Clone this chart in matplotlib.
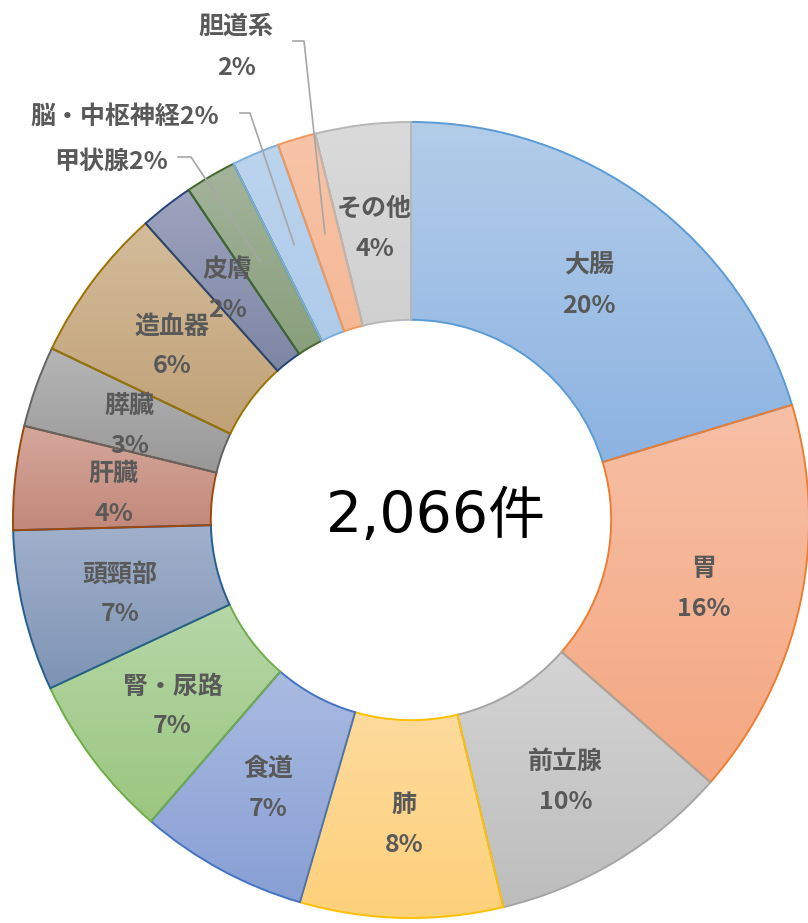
import numpy as np
import matplotlib
matplotlib.use("Agg")
import matplotlib.pyplot as plt
from matplotlib.colors import to_rgb

plt.rcParams['font.family'] = ['Noto Sans CJK JP', 'DejaVu Sans']

categories = ["大腸", "胃", "前立腺", "肺", "食道", "腎・尿路", "頭頸部", "肝臓",
              "膵臓", "造血器", "皮膚", "甲状腺", "脳・中枢神経", "胆道系", "その他"]
counts = [420, 333, 203, 170, 141, 139, 135, 87, 68, 130, 45, 43, 40, 32, 80]
total_label = "2,066件"
callout_cats = ["甲状腺", "脳・中枢神経", "胆道系"]

top_colors = ["#b3cde9", "#f7c0a6", "#d4d4d4", "#fedb9d", "#aabbe1", "#b6d7a8", "#a1b1cc",
              "#d5a89c", "#b6b6b6", "#d4bc9b", "#9ea4be", "#a4b49c", "#bcd4ee", "#f8c4a8", "#dadada"]
bottom_colors = ["#8db3e2", "#f4a781", "#bdbdbd", "#fdd07a", "#889fd5", "#9bc67f", "#7e93b4",
                 "#c2887a", "#989898", "#c0a177", "#7e86a5", "#889f7b", "#aecbea", "#f5b896", "#d0d0d0"]
edge_colors = ["#5b9bd5", "#ed7d31", "#a5a5a5", "#ffc000", "#4472c4", "#70ad47", "#255e91",
               "#9e480e", "#636363", "#997300", "#264478", "#43682b", "#7cafdd", "#f1975a", "#b7b7b7"]

W, H = 808, 923
cx, cy, R = 411, 520, 398
hole = 0.503

def px(x, y):
    return (x - cx) / R, (cy - y) / R

fig = plt.figure(figsize=(W / 100, H / 100), dpi=100)
ax = fig.add_axes([0, 0, 1, 1])
wedges, _ = ax.pie(counts, startangle=90, counterclock=False, radius=1.0,
                   wedgeprops=dict(width=1 - hole, linewidth=1.4))
ax.set_xlim(-cx / R, (W - cx) / R)
ax.set_ylim(-(H - cy) / R, cy / R)
ax.set_aspect('auto')
ax.axis('off')

g = np.linspace(0, 1, 256)[:, None, None]
for w, t, b, e in zip(wedges, top_colors, bottom_colors, edge_colors):
    w.set_facecolor('none')
    w.set_edgecolor(e)
    w.set_zorder(3)
    ext = w.get_path().get_extents()
    img = np.array(to_rgb(t))[None, None, :] * (1 - g) + np.array(to_rgb(b))[None, None, :] * g
    im = ax.imshow(img, extent=[ext.x0, ext.x1, ext.y0, ext.y1], origin='upper',
                   aspect='auto', zorder=1, interpolation='bilinear')
    im.set_clip_path(w)

ax.set_xlim(-cx / R, (W - cx) / R)
ax.set_ylim(-(H - cy) / R, cy / R)

total = sum(counts)
pcts = [f"{round(c / total * 100)}%" for c in counts]
cum = np.cumsum([0] + counts)
rmid = (1 + hole) / 2
tkw = dict(fontsize=18, fontweight='bold', color='#595959', ha='center', va='center', zorder=5)
mids = {}
dy = -0.015
for i, (cat, p) in enumerate(zip(categories, pcts)):
    th = np.deg2rad((cum[i] + cum[i + 1]) / 2 / total * 360)
    x, y = rmid * np.sin(th), rmid * np.cos(th)
    mids[cat] = (x, y)
    if cat in callout_cats:
        continue
    ax.text(x, y + 0.05 + dy, cat, **tkw)
    ax.text(x, y - 0.05 + dy, p, **tkw)

# callout labels
pct_of = dict(zip(categories, pcts))
lc = '#a6a6a6'
ax.text(*px(236, 27), "胆道系", **tkw)
ax.text(*px(236, 68), pct_of["胆道系"], **tkw)
ax.text(*px(125, 117), "脳・中枢神経" + pct_of["脳・中枢神経"], **tkw)
ax.text(*px(111, 162), "甲状腺" + pct_of["甲状腺"], **tkw)

for cat, p0, p1 in [("胆道系", (293, 41), (304, 41)),
                    ("脳・中枢神経", (240, 113), (250, 113)),
                    ("甲状腺", (178, 157), (191, 157))]:
    a = px(*p0); b = px(*p1); m = mids[cat]
    ax.plot([a[0], b[0], m[0]], [a[1], b[1], m[1]], color=lc, lw=1.2, zorder=4)

ax.text(*px(436, 518), total_label, fontsize=41, color='black', ha='center', va='center',
        family=['DejaVu Sans', 'Noto Sans CJK JP'], zorder=5)

fig.savefig("out.png", dpi=100, facecolor='white')
